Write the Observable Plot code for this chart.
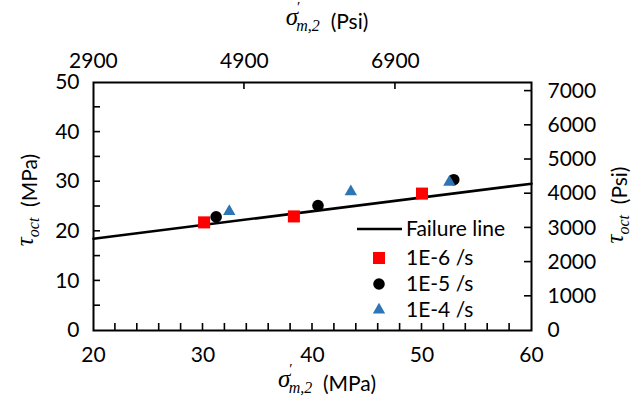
<!DOCTYPE html>
<html>
<head>
<meta charset="utf-8">
<script src="https://cdn.jsdelivr.net/npm/d3@7"></script>
<script src="https://cdn.jsdelivr.net/npm/@observablehq/plot@0.6"></script>
<style>
  html, body { margin: 0; padding: 0; background: #fff; }
  #chart { width: 640px; height: 398px; position: relative; }
  svg { overflow: visible; }
</style>
</head>
<body>
<div id="chart"></div>
<script>
// ---------- data ----------
const PSI_PER_MPA = 145.038;
const seriesNames = ["1E-6 /s", "1E-5 /s", "1E-4 /s"];
const seriesColors = ["#FF0000", "#000000", "#2E75B6"];
const sigma6 = [30.1, 38.3, 50.0];
const tau6 = [21.8, 23.0, 27.6];
const sigma5 = [31.2, 40.5, 52.9];
const tau5 = [22.9, 25.2, 30.4];
const sigma4 = [32.4, 43.5, 52.5];
const tau4 = [24.0, 28.0, 29.9];
const failSigma = [20, 60];
const failTau = [18.5, 29.6];
const failLabel = "Failure line";

const xLabelTicks = [20, 30, 40, 50, 60];
const xMinorTicks = [22, 24, 26, 28, 30, 32, 34, 36, 38, 40, 42, 44, 46, 48, 50, 52, 54, 56, 58];
const yLabelTicks = [0, 10, 20, 30, 40, 50];
const yMinorTicks = [5, 10, 15, 20, 25, 30, 35, 40, 45];
const psiRightTicks = [0, 1000, 2000, 3000, 4000, 5000, 6000, 7000];
const psiTopTicks = [2900, 4900, 6900];

// ---------- tables ----------
const pts = (xs, ys, s) => xs.map((x, i) => ({ sigma: x, tau: ys[i], series: s }));
const d6 = pts(sigma6, tau6, seriesNames[0]);
const d5 = pts(sigma5, tau5, seriesNames[1]);
const d4 = pts(sigma4, tau4, seriesNames[2]);
const fail = pts(failSigma, failTau, failLabel);
const toMPa = p => p / PSI_PER_MPA;
const rightTicks = psiRightTicks.map(toMPa);
const topTicks = psiTopTicks.map(toMPa);
const psiFmt = d => String(Math.round(d * PSI_PER_MPA / 100) * 100);

const FONT = "Lato, 'Open Sans', sans-serif";
const W = 640, H = 398, ML = 93, MR = 109, MT = 82, MB = 68;

const plot = Plot.plot({
  width: W,
  height: H,
  marginLeft: ML,
  marginRight: MR,
  marginTop: MT,
  marginBottom: MB,
  style: { fontFamily: FONT, fontSize: "21px", color: "#000", background: "#fff", overflow: "visible" },
  x: { domain: [20, 60] },
  y: { domain: [0, 50] },
  marks: [
    Plot.axisX({ anchor: "bottom", ticks: xLabelTicks, tickSize: 0, tickPadding: 17, tickFormat: d => String(d), label: null, fontSize: 21 }),
    Plot.axisY({ anchor: "left", ticks: yLabelTicks, tickSize: 0, tickPadding: 14, tickFormat: d => String(d), label: null, fontSize: 21 }),
    Plot.axisY({ anchor: "right", ticks: rightTicks, tickSize: 0, tickPadding: 16, tickFormat: psiFmt, label: null, fontSize: 21 }),
    Plot.axisX({ anchor: "top", ticks: topTicks, tickSize: 0, tickPadding: 15, tickFormat: psiFmt, label: null, fontSize: 21 }),
    Plot.frame({ stroke: "#000", strokeWidth: 2, fill: "none" }),
    Plot.line(fail, { x: "sigma", y: "tau", stroke: "#000", strokeWidth: 2.6 }),
    Plot.dot(d6, { x: "sigma", y: "tau", symbol: "square", fill: seriesColors[0], r: 6.8 }),
    Plot.dot(d5, { x: "sigma", y: "tau", symbol: "circle", fill: seriesColors[1], r: 5.8 }),
    Plot.dot(d4, { x: "sigma", y: "tau", symbol: "triangle", fill: seriesColors[2], r: 4.6 })
  ]
});
document.getElementById("chart").appendChild(plot);

const svg = d3.select(plot);

// ---------- inward tick marks, positioned through Plot's own scales ----------
const sx = plot.scale("x"), sy = plot.scale("y");
const [xr0, xr1] = sx.range, [yr0, yr1] = sy.range; // yr0 = bottom, yr1 = top
const tg = svg.append("g").attr("fill", "#000").attr("stroke", "none");
const TL = 7, TW = 1.6;
xMinorTicks.forEach(v => { const px = sx.apply(v); tg.append("rect").attr("x", px - TW / 2).attr("y", yr0 - TL).attr("width", TW).attr("height", TL); });
topTicks.slice(1).forEach(v => { const px = sx.apply(v); tg.append("rect").attr("x", px - TW / 2).attr("y", yr1).attr("width", TW).attr("height", TL); });
yMinorTicks.forEach(v => { const py = sy.apply(v); tg.append("rect").attr("x", xr0).attr("y", py - TW / 2).attr("width", TL).attr("height", TW); });
rightTicks.slice(1).forEach(v => { const py = sy.apply(v); tg.append("rect").attr("x", xr1 - TL).attr("y", py - TW / 2).attr("width", TL).attr("height", TW); });

// ---------- axis titles (math-style) ----------
const SERIF = "'Liberation Serif', 'DejaVu Serif', serif";
function mathTitle(tx, ty, rot, sym, hasPrime, sub, unit) {
  const g = svg.append("g").attr("transform", `translate(${tx},${ty}) rotate(${rot})`);
  const t = g.append("text").attr("text-anchor", "middle").attr("fill", "#000");
  t.append("tspan").attr("font-family", SERIF).attr("font-style", "italic").attr("font-size", 25).attr("dy", -4).text(sym);
  if (hasPrime) {
    t.append("tspan").attr("font-family", SERIF).attr("font-size", 15).attr("dy", -13).attr("dx", -1).text("\u2032");
    t.append("tspan").attr("font-family", SERIF).attr("font-style", "italic").attr("font-size", 16).attr("dy", 19).attr("dx", -4).text(sub);
  } else {
    t.append("tspan").attr("font-family", SERIF).attr("font-style", "italic").attr("font-size", 16).attr("dy", 6).attr("dx", 0).text(sub);
  }
  t.append("tspan").attr("font-family", FONT).attr("font-size", 21).attr("dy", -2).text("\u00a0\u00a0" + unit);
}
mathTitle(327, 391, 0, "σ", true, "m,2", "(MPa)");
mathTitle(327, 29, 0, "σ", true, "m,2", "(Psi)");
mathTitle(37, 200, -90, "τ", false, "oct", "(MPa)");
mathTitle(627, 205, -90, "τ", false, "oct", "(Psi)");

// ---------- legend ----------
const lg = svg.append("g").attr("font-family", FONT).attr("font-size", 21).attr("fill", "#000").attr("text-anchor", "start");
lg.append("line").attr("x1", 357).attr("x2", 402).attr("y1", 229).attr("y2", 229).attr("stroke", "#000").attr("stroke-width", 2.6);
lg.append("text").attr("x", 406).attr("y", 236).attr("text-anchor", "start").text(failLabel);
const legSyms = [d3.symbolSquare, d3.symbolCircle, d3.symbolTriangle];
const legR = [6.8, 5.8, 4.6];
const legY = [258, 284, 310];
const legBase = [265, 291, 317];
seriesNames.forEach((name, i) => {
  lg.append("path")
    .attr("d", d3.symbol(legSyms[i], Math.PI * legR[i] * legR[i])())
    .attr("transform", `translate(379,${legY[i]})`)
    .attr("fill", seriesColors[i]);
  lg.append("text").attr("x", 406).attr("y", legBase[i]).attr("text-anchor", "start").text(name);
});
</script>
</body>
</html>
